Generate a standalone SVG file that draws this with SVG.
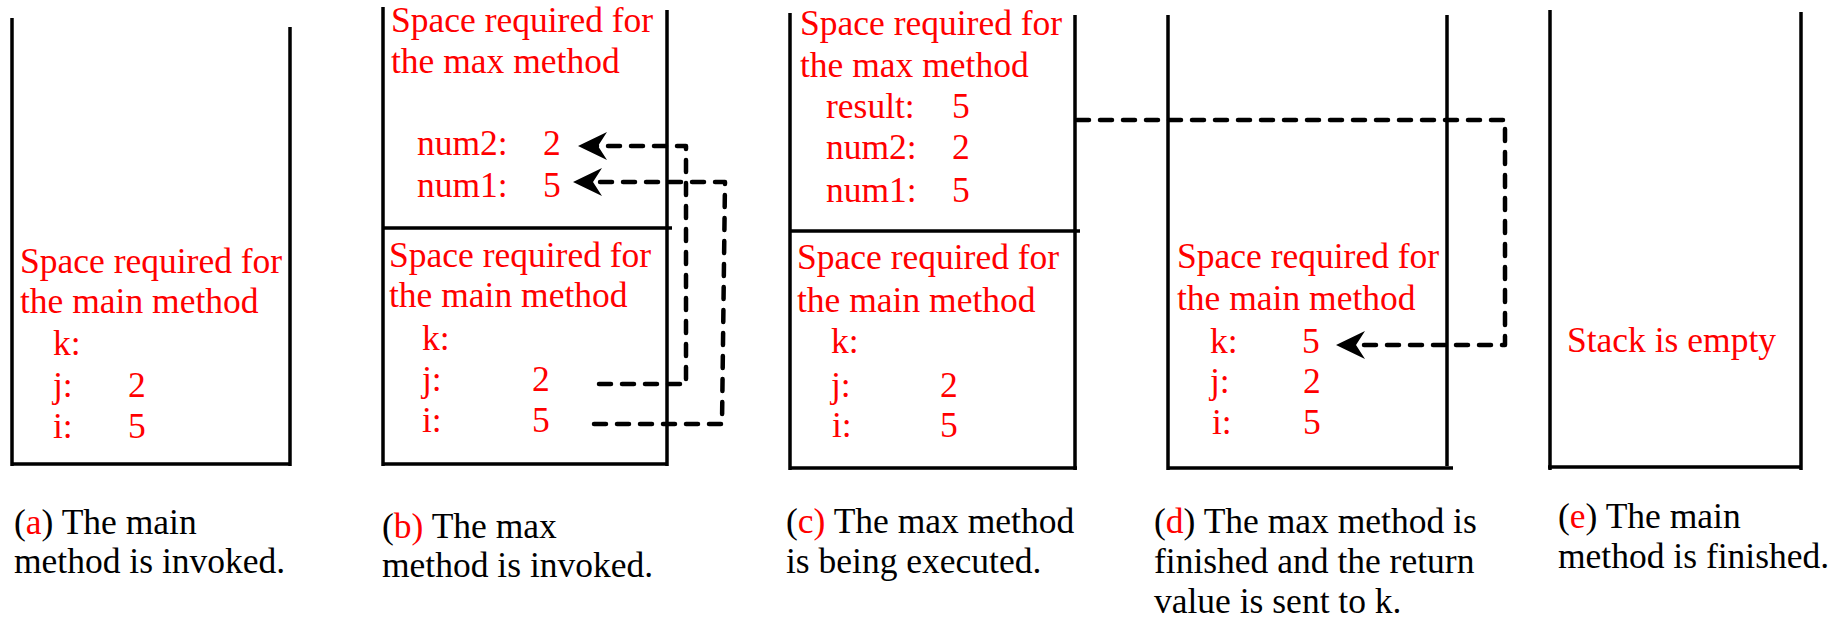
<svg xmlns="http://www.w3.org/2000/svg" width="1838" height="619" viewBox="0 0 1838 619">
<style>
text{font-family:'Liberation Serif','Times New Roman',Times,Tinos,'Nimbus Roman','DejaVu Serif',serif;font-size:35.5px}
.r{fill:#ff0000}
.k{fill:#000000}
.wall{stroke:#000;stroke-width:3.5;fill:none}
.dash{stroke:#000;stroke-width:4.5;fill:none;stroke-dasharray:12 11;stroke-linecap:round;stroke-linejoin:round}
</style>
<defs>
<marker id="ah" markerUnits="userSpaceOnUse" viewBox="-32 -16 34 32" refX="-14" refY="0" markerWidth="34" markerHeight="32" orient="auto" overflow="visible">
<path d="M0,0 L-29,-14 L-20,0 L-29,14 Z" fill="#000"/>
</marker>
</defs>
<rect width="1838" height="619" fill="#fff"/>

<g id="panel-a">
<path class="wall" d="M12,18 V466 M290,27 V466 M11,464 H291"/>
<text class="r" x="20" y="273">Space required for</text>
<text class="r" x="20" y="313">the main method</text>
<text class="r" x="53" y="355">k:</text>
<text class="r" x="53" y="397">j:</text><text class="r" x="128" y="397">2</text>
<text class="r" x="53" y="438">i:</text><text class="r" x="128" y="438">5</text>
<text class="k" x="14" y="534">(<tspan class="r">a</tspan>) The main</text>
<text class="k" x="14" y="573">method is invoked.</text>
</g>

<g id="panel-b">
<path class="wall" d="M383,7 V466 M667,10 V466 M382,464 H668 M383,228 H672"/>
<text class="r" x="391" y="32">Space required for</text>
<text class="r" x="391" y="73">the max method</text>
<text class="r" x="417" y="155">num2:</text><text class="r" x="543" y="155">2</text>
<text class="r" x="417" y="197">num1:</text><text class="r" x="543" y="197">5</text>
<text class="r" x="389" y="267">Space required for</text>
<text class="r" x="389" y="307">the main method</text>
<text class="r" x="422" y="350">k:</text>
<text class="r" x="422" y="391">j:</text><text class="r" x="532" y="391">2</text>
<text class="r" x="422" y="432">i:</text><text class="r" x="532" y="432">5</text>
<text class="k" x="382" y="538">(<tspan class="r">b)</tspan> The max</text>
<text class="k" x="382" y="577">method is invoked.</text>
</g>

<g id="panel-c">
<path class="wall" d="M790,13 V470 M1075,15 V470 M789,468 H1077 M790,231 H1080"/>
<text class="r" x="800" y="35">Space required for</text>
<text class="r" x="800" y="77">the max method</text>
<text class="r" x="826" y="118">result:</text><text class="r" x="952" y="118">5</text>
<text class="r" x="826" y="159">num2:</text><text class="r" x="952" y="159">2</text>
<text class="r" x="826" y="202">num1:</text><text class="r" x="952" y="202">5</text>
<text class="r" x="797" y="269">Space required for</text>
<text class="r" x="797" y="312">the main method</text>
<text class="r" x="831" y="353">k:</text>
<text class="r" x="831" y="397">j:</text><text class="r" x="940" y="397">2</text>
<text class="r" x="832" y="437">i:</text><text class="r" x="940" y="437">5</text>
<text class="k" x="786" y="533">(<tspan class="r">c)</tspan> The max method</text>
<text class="k" x="786" y="573">is being executed.</text>
</g>

<g id="panel-d">
<path class="wall" d="M1168,15 V470 M1447,15 V466 M1167,468 H1453"/>
<text class="r" x="1177" y="268">Space required for</text>
<text class="r" x="1177" y="310">the main method</text>
<text class="r" x="1210" y="353">k:</text><text class="r" x="1302" y="353">5</text>
<text class="r" x="1210" y="393">j:</text><text class="r" x="1303" y="393">2</text>
<text class="r" x="1212" y="434">i:</text><text class="r" x="1303" y="434">5</text>
<text class="k" x="1154" y="533">(<tspan class="r">d</tspan>) The max method is</text>
<text class="k" x="1154" y="573">finished and the return</text>
<text class="k" x="1154" y="613">value is sent to k.</text>
</g>

<g id="panel-e">
<path class="wall" d="M1550,10 V470 M1801,12 V470 M1548,467 H1802"/>
<text class="r" x="1567" y="352">Stack is empty</text>
<text class="k" x="1558" y="528">(<tspan class="r">e</tspan>) The main</text>
<text class="k" x="1558" y="568">method is finished.</text>
</g>

<g id="connectors">
<path class="dash" d="M599,384 H686 V146 H592" marker-end="url(#ah)"/>
<path class="dash" d="M594,424 H722 L725,182 H587" marker-end="url(#ah)"/>
<path class="dash" d="M1077,120 H1505 V345 H1350" marker-end="url(#ah)"/>
</g>
</svg>
